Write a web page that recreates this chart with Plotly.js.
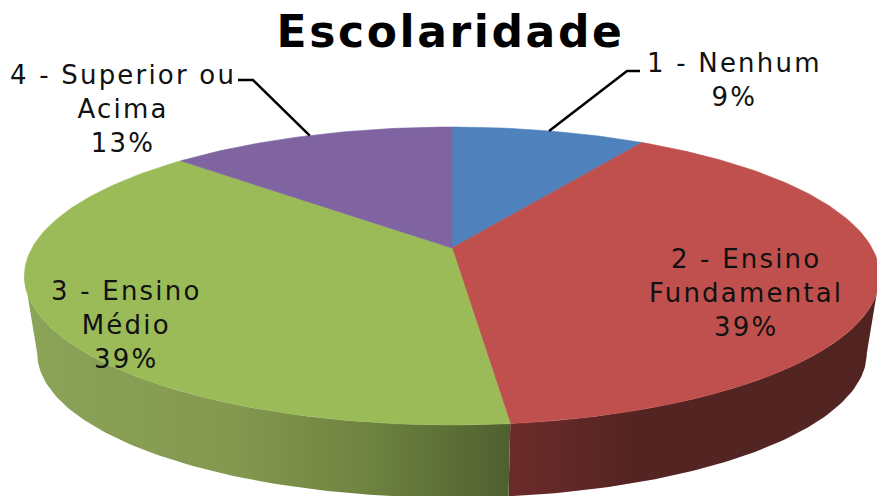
<!DOCTYPE html>
<html><head><meta charset="utf-8">
<script src="https://cdn.plot.ly/plotly-3.0.1.min.js"></script>
<style>html,body{margin:0;padding:0;background:#fff}#c{width:877px;height:496px}
.annotation-text{letter-spacing:2.2px}
.gtitle{letter-spacing:2.6px}</style>
</head><body><div id="c"></div>
<script>
const categories = ['1 - Nenhum','2 - Ensino Fundamental','3 - Ensino Médio','4 - Superior ou Acima'];
const values = [8.8, 39.4, 38.8, 13.0];
const topColors = ['#4f81bd','#c0504d','#9bbb59','#8064a2'];
const wallStops = [
  [[0,'#3b6090'],[1,'#3b6090']],
  [[0,'#6c2b2a'],[0.35,'#532422'],[1,'#512422']],
  [[0,'#8aa458'],[0.42,'#84984f'],[0.7,'#6f8440'],[1,'#4f6030']],
  [[0,'#604b7a'],[1,'#604b7a']]
];
const labelText = ['1 - Nenhum<br>9%','2 - Ensino<br>Fundamental<br>39%','3 - Ensino<br>Médio<br>39%','4 - Superior ou<br>Acima<br>13%'];
const labelX = [734, 746, 126, 123];
const labelY = [80, 293, 325, 109];
const leaderIdx = [0, 3];
const leaderElbowX = [[627,640],[253,238]];
const leaderElbowY = [[71,71],[80,80]];

// perspective projection of the pie plane
const CX=452, CY=248, A=143.7, B=420, K=0.188, DEPTH=78, SHRINK=0.97;
function proj(frac, s, dy){
  const t=frac*2*Math.PI, u=Math.sin(t), v=Math.cos(t), d=1+K*v;
  return [CX+s*B*u/d, CY+dy-s*A*v/d];
}
const total=values.reduce((a,b)=>a+b,0);
let cum=0; const spans=values.map(v=>{const r=[cum/total,(cum+v)/total];cum+=v;return r;});
function arc(a,b,s,dy){const n=Math.max(4,Math.ceil((b-a)*360));const p=[];for(let i=0;i<=n;i++)p.push(proj(a+(b-a)*i/n,s,dy));return p;}

// only the front part of the rim, between the two silhouette points, is seen
const silhouette=Math.acos(-K)/(2*Math.PI);
const frontA=silhouette, frontB=1-silhouette;
const traces=[];
values.forEach((_,i)=>{
  const a=Math.max(spans[i][0],frontA), b=Math.min(spans[i][1],frontB);
  if(b<=a) return;
  const poly=arc(a,b,1,0).concat(arc(a,b,SHRINK,DEPTH).reverse());
  const xs=poly.map(p=>p[0]);
  traces.push({type:'scatter',mode:'lines',x:poly.map(p=>p[0]).concat(poly[0][0]),y:poly.map(p=>p[1]).concat(poly[0][1]),
    fill:'toself',line:{width:0,color:'rgba(0,0,0,0)'},hoverinfo:'skip',
    fillgradient:{type:'horizontal',colorscale:wallStops[i],start:Math.min(...xs),stop:Math.max(...xs)}});
});
values.forEach((_,i)=>{
  const [a,b]=spans[i];
  const poly=[[CX,CY]].concat(arc(a,b,1,0),[[CX,CY]]);
  traces.push({type:'scatter',mode:'lines',x:poly.map(p=>p[0]),y:poly.map(p=>p[1]),name:categories[i],
    fill:'toself',fillcolor:topColors[i],line:{width:0.6,color:topColors[i]},hoverinfo:'name'});
});
leaderIdx.forEach((idx,k)=>{
  const m=proj((spans[idx][0]+spans[idx][1])/2,1,0);
  traces.push({type:'scatter',mode:'lines',x:[m[0]].concat(leaderElbowX[k]),y:[m[1]].concat(leaderElbowY[k]),
    line:{width:2.5,color:'#000'},hoverinfo:'skip'});
});
const layout={
  width:877,height:496,margin:{l:0,r:0,t:0,b:0},showlegend:false,
  paper_bgcolor:'#fff',plot_bgcolor:'#fff',
  xaxis:{range:[0,877],visible:false,fixedrange:true},
  yaxis:{range:[496,0],visible:false,fixedrange:true},
  title:{text:'<b>Escolaridade</b>',x:0.5137,xanchor:'center',xref:'paper',y:0.936,yanchor:'middle',font:{family:'DejaVu Sans',size:44,color:'#000'}},
  annotations:labelText.map((t,i)=>({text:t,x:labelX[i],y:labelY[i],xref:'x',yref:'y',showarrow:false,align:'center',
    font:{family:'DejaVu Sans',size:26,color:'#111'}}))
};
Plotly.newPlot('c',traces,layout,{displayModeBar:false,responsive:false});
</script></body></html>
